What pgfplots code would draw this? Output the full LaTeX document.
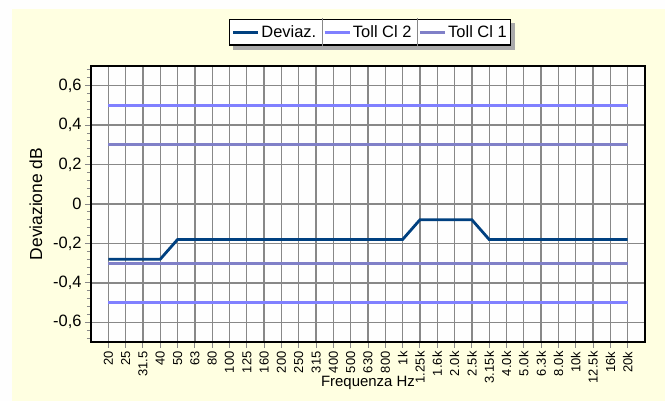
\documentclass[border=0pt]{standalone}
\usepackage{fontspec}
\setmainfont{Liberation Sans}
\usepackage{pgfplots}
\pgfplotsset{compat=1.18}
\definecolor{bgyel}{RGB}{255,255,225}
\definecolor{plotbg}{RGB}{254,254,254}
\definecolor{dev}{RGB}{0,64,128}
\definecolor{tollA}{RGB}{128,128,255}
\definecolor{tollB}{RGB}{128,128,200}
\definecolor{gridg}{RGB}{136,136,136}
\definecolor{shade}{RGB}{170,170,170}
\pgfplotsset{
  legline/.style={legend image code/.code={%
    \path (-4bp,0bp) -- (21bp,0bp);
    \draw[##1] (0bp,0bp) -- (15bp,0bp);}},
  legdiv/.style={legend image code/.code={%
    \path (-4bp,0bp) -- (21bp,0bp);
    \draw[overlay, gridg, line width=0.8bp] (-6.5bp,-14bp) -- (-6.5bp,14bp);
    \draw[##1] (0bp,0bp) -- (15bp,0bp);}},
}

\begin{document}
\begin{tikzpicture}
% page, panel and legend shadow, all behind the axis
\path[fill=plotbg] (0,0) rectangle (665bp,401bp);
\path[fill=bgyel] (12bp,0) rectangle (665bp,392bp);
\path[fill=shade] (233bp,351bp) rectangle (515bp,378bp);
\begin{axis}[
    at={(91bp,59bp)}, anchor=south west,
    scale only axis, width=554bp, height=276bp,
    axis background/.style={fill=plotbg},
    xmin=-1, xmax=31, ymin=-0.7, ymax=0.7,
    xtick={0,...,30},
    xticklabels={20,25,31.5,40,50,63,80,100,125,160,200,250,315,400,500,630,800,1k,{1.25k\hspace{6bp}},1.6k,2.0k,2.5k,3.15k,4.0k,5.0k,6.3k,8.0k,10k,12.5k,16k,20k},
    x tick label style={rotate=90, anchor=east, font=\fontsize{13}{15}\selectfont},
    ytick={-0.6,-0.4,-0.2,0,0.2,0.4,0.6},
    minor ytick={-0.68,-0.64,-0.56,-0.52,-0.48,-0.44,-0.36,-0.32,-0.28,-0.24,-0.16,-0.12,-0.08,-0.04,0.04,0.08,0.12,0.16,0.24,0.28,0.32,0.36,0.44,0.48,0.52,0.56,0.64,0.68},
    y tick label style={font=\fontsize{16.5}{19}\selectfont},
    /pgf/number format/assume math mode=true,
    /pgf/number format/use comma,
    tick pos=left, tick align=outside,
    major tick length=6bp, minor tick length=4bp,
    tick style={gridg, line width=1bp},
    grid=major, major grid style={gridg, line width=1.3bp},
    axis line style={black, line width=1.6bp},
    xlabel={Frequenza Hz},
    xlabel style={at={(axis description cs:0.5,-0.1486)}, anchor=center, font=\fontsize{15}{17}\selectfont},
    ylabel={Deviazione dB},
    ylabel style={at={(axis description cs:-0.0993,0.5)}, anchor=center, font=\fontsize{17.5}{20}\selectfont},
    legend columns=-1,
    legend style={at={(0.2491,1.1703)}, anchor=north west, draw=black, line width=1.2bp,
      fill=white, font=\fontsize{16.5}{19}\selectfont, inner xsep=2bp, inner ysep=4bp,
      /tikz/every even column/.append style={column sep=5bp}},
]
\addplot[dev, line width=2.8bp, legline] coordinates {
  (0,-0.28) (1,-0.28) (2,-0.28) (3,-0.28) (4,-0.18) (5,-0.18) (6,-0.18) (7,-0.18)
  (8,-0.18) (9,-0.18) (10,-0.18) (11,-0.18) (12,-0.18) (13,-0.18) (14,-0.18) (15,-0.18)
  (16,-0.18) (17,-0.18) (18,-0.08) (19,-0.08) (20,-0.08) (21,-0.08) (22,-0.18) (23,-0.18)
  (24,-0.18) (25,-0.18) (26,-0.18) (27,-0.18) (28,-0.18) (29,-0.18) (30,-0.18) };
\addlegendentry{Deviaz.}
\addplot[tollA, line width=2.8bp, legdiv] coordinates { (0,0.5) (30,0.5) };
\addlegendentry{Toll Cl 2}
\addplot[tollA, line width=2.8bp, forget plot] coordinates { (0,-0.5) (30,-0.5) };
\addplot[tollB, line width=2.8bp, legdiv] coordinates { (0,0.3) (30,0.3) };
\addlegendentry{Toll Cl 1\hspace{14bp}}
\addplot[tollB, line width=2.8bp, forget plot] coordinates { (0,-0.3) (30,-0.3) };
\end{axis}
\end{tikzpicture}
\end{document}
